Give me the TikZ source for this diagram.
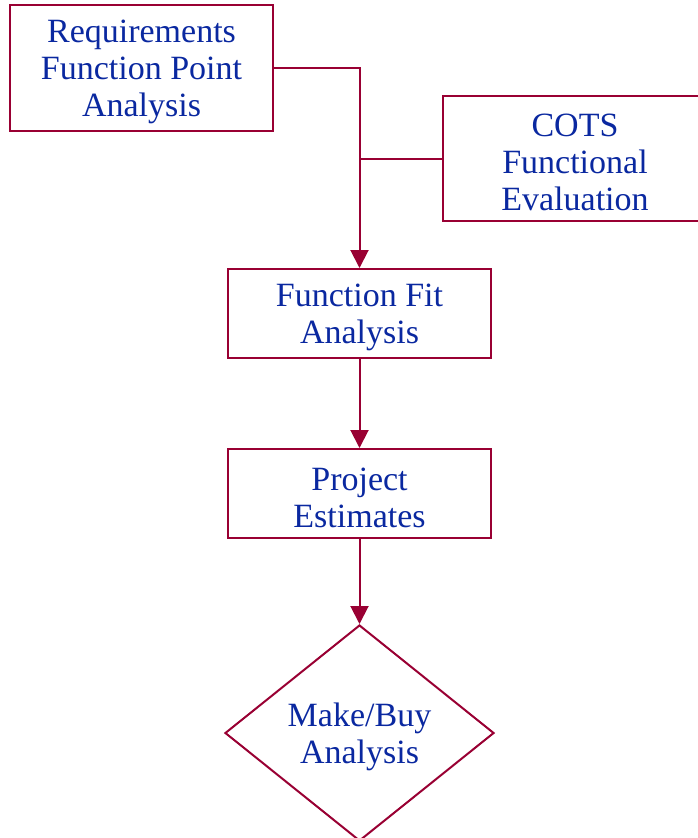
\documentclass[tikz,border=0pt]{standalone}
\usepackage{fontspec}
\setmainfont{Liberation Serif}
\usetikzlibrary{arrows.meta,shapes.geometric}
\definecolor{linecol}{RGB}{153,0,51}
\definecolor{textcol}{RGB}{10,40,160}
\begin{document}
\begin{tikzpicture}[x=1pt,y=-1pt,
  every node/.style={text=textcol,font=\fontsize{34}{37}\selectfont,align=center,inner sep=0pt},
  caption/.style={label={[yshift=-4pt]center:#1}},
  procbox/.style={draw=linecol,line width=2pt,rectangle,minimum width=263pt,minimum height=#1},
  decision/.style={draw=linecol,line width=2pt,diamond,minimum width=269pt,minimum height=216pt},
  link/.style={draw=linecol,line width=2pt},
  flow/.style={link,-{Triangle[length=18pt,width=18pt]}}]
\useasboundingbox (0,0) rectangle (697,838);
\node[procbox=126pt,caption={Requirements\\Function Point\\Analysis}] (req) at (141.5,68) {};
\node[procbox=125pt,minimum width=264pt,caption={COTS\\Functional\\Evaluation}] (cots) at (575,158.5) {};
\node[procbox=89pt,caption={Function Fit\\Analysis}] (fit) at (359.5,313.5) {};
\node[procbox=89pt,caption={Project\\Estimates}] (est) at (359.5,493.5) {};
\node[decision,caption={Make/Buy\\Analysis}] (mb) at (359.5,733) {};
\draw[flow] (req.east) -| (fit.north);
\draw[link] (cots.west) -- (cots.west -| fit.north);
\draw[flow] (fit.south) -- (est.north);
\draw[flow] (est.south) -- (mb.north);
\end{tikzpicture}
\end{document}
